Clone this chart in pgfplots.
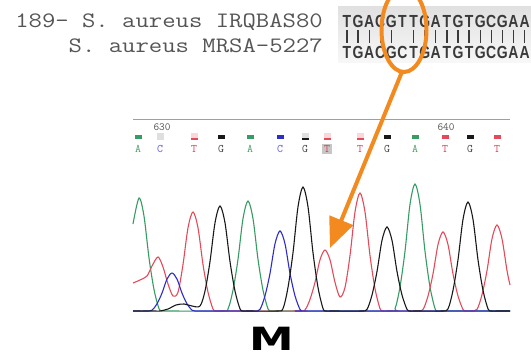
\documentclass[border=0pt]{standalone}
\usepackage{fontspec}
\setmainfont{Liberation Sans}
\newfontfamily\dejavu{DejaVu Sans}
\usepackage{pgfplots}
\pgfplotsset{compat=1.18}
\usetikzlibrary{arrows.meta}
\definecolor{tgreen}{RGB}{55,155,100}
\definecolor{tred}{RGB}{228,75,90}
\definecolor{tblue}{RGB}{45,45,200}
\definecolor{tblack}{RGB}{25,25,25}
\definecolor{orng}{RGB}{243,138,32}
\definecolor{seqgray}{RGB}{58,58,58}
\definecolor{txtgray}{RGB}{85,85,85}
\definecolor{lA}{RGB}{70,160,100}
\definecolor{lC}{RGB}{90,90,210}
\definecolor{lT}{RGB}{220,60,75}
\definecolor{lG}{RGB}{70,70,70}
\newcommand\seqfont{\fontsize{17.5}{19}\selectfont\bfseries}
\begin{document}
\begin{tikzpicture}
\useasboundingbox (0,0) rectangle (531pt,360pt);
\fill[white] (0,0) rectangle (531pt,360pt);
\begin{axis}[at={(0pt,0pt)}, anchor=south west, scale only axis,
  width=531pt, height=360pt, xmin=0, xmax=531, ymin=0, ymax=360,
  y dir=reverse, hide axis, clip=false]
% quality markers
\addplot[only marks, mark=-, mark size=3.5pt, mark options={line width=7pt, color=gray!25}] coordinates {(160,136)(305,136)};
\addplot[only marks, mark=-, mark size=3.5pt, mark options={line width=7pt, color=tred!22}] coordinates {(194,136)(327,136)(360,136)};
\addplot[only marks, mark=-, mark size=3.5pt, mark options={line width=2pt, color=tred}] coordinates {(194,138.5)(327,138.5)(360,138.5)};
\addplot[only marks, mark=-, mark size=3.5pt, mark options={line width=2pt, color=tblack}] coordinates {(305,138.5)};
\addplot[only marks, mark=-, mark size=3.5pt, mark options={line width=4.5pt, color=tgreen}] coordinates {(138,137)(250,137)(415,137)};
\addplot[only marks, mark=-, mark size=3.5pt, mark options={line width=4.5pt, color=tblack}] coordinates {(221,137)(387,137)(470,137)};
\addplot[only marks, mark=-, mark size=3.5pt, mark options={line width=4.5pt, color=tblue}] coordinates {(280,137)};
\addplot[only marks, mark=-, mark size=3.5pt, mark options={line width=4.5pt, color=tred}] coordinates {(445,137)(497,137)};
% traces
\addplot[tgreen, line width=1.1pt, smooth] coordinates {
(133,224)(139,198)(144,216.1)(149,257.9)(154,289.5)(159,308.7)(162,311)(168,311)
(222,311)(228,308.8)(233,290.1)(238,259.3)(243,218.6)(248,201)(253,218.6)(258,259.3)(263,290.1)(268,308.8)(271,311)(277,311)
(389,311)(395,308.5)(400,286.9)(405,251.3)(410,204.3)(415,184)(420,204.3)(425,251.3)(430,286.9)(435,308.5)(438,311)(444,311)(510,311)};
\addplot[tred, line width=1.1pt, smooth] coordinates {
(133,283)(140,280)(147,276)(152,266)(158,257)(163,267)(168,284)(173,296)(178,292.2)
(183,264.5)(188,227.8)(193,212)(198,227.8)(203,264.5)(208,292.2)(213,309)(216,311)(222,311)
(299,311)(305,309.8)(310,299.4)(315,282.3)(320,259.8)(325,250)(330,259.8)(335,282.3)(340,297)(345,287.4)
(350,255.5)(355,211.9)(360,193)(365,211.9)(370,255.5)(375,288.6)(380,308.6)(383,311)(389,311)
(417,311)(423,309.4)(428,296)(433,273.9)(438,244.6)(443,232)(448,244.6)(453,273.9)(458,296)(463,309.4)(466,311)
(471,311)(477,309.3)(482,294.7)(487,270.6)(492,238.8)(497,225)(502,238.8)(507,270.6)(510,285)};
\addplot[tblue, line width=1.1pt, smooth] coordinates {
(133,311)(146,311)(152,310.2)(157,303.8)(162,293.1)(167,279.1)(172,273)(177,279.1)(182,293.1)(187,303.8)(192,310.2)(195,311)(201,311)
(249,311)(255,311)(260,309.4)(265,295.8)(270,273.4)(275,243.8)(280,231)(285,243.8)(290,273.4)(295,295.8)(300,309.4)(303,311)(309,311)(510,311)};
\addplot[tblack, line width=1.1pt, smooth] coordinates {
(133,311)(154,311)(160,311)(168,309)(176,305)(184,304)(192,306)(200,306)(205,291)(210,261.6)(215,222.8)(220,206)(225,222.8)(230,261.6)(235,291)(240,308.9)(243,311)(249,311)
(277,311)(283,308.5)(288,287.4)(293,252.7)(298,206.8)(303,187)(308,206.8)(313,252.7)(318,287.4)(323,308.5)(326,311)(332,311)
(361,311)(367,309.3)(372,295)(377,271.5)(382,240.4)(387,227)(392,240.4)(397,271.5)(402,295)(407,309.3)(410,311)(416,311)
(442,311)(448,308.8)(453,290.3)(458,259.8)(463,219.4)(468,202)(473,219.4)(478,259.8)(483,290.3)(488,308.8)(491,311)(497,311)(510,311)};
\end{axis}
\begin{scope}[shift={(0pt,360pt)}, x=1pt, y=-1pt]
% top texts
\node[anchor=base east, inner sep=0, xscale=1.18, text=txtgray] at (323,27) {\ttfamily\fontsize{22}{24}\selectfont 189- S. aureus IRQBAS80};
\node[anchor=base east, inner sep=0, xscale=1.18, text=txtgray] at (323,52) {\ttfamily\fontsize{22}{24}\selectfont S. aureus MRSA-5227};
\shade[top color=gray!24, bottom color=gray!6] (338,6) rectangle (531,62);
\foreach \l [count=\i] in {T,G,A,C,G,T,T,G,A,T,G,T,G,C,G,A,A}
  {\node[anchor=base, inner sep=0, xscale=0.8, text=seqgray, font=\seqfont] at ({347+11.1*(\i-1)},27) {\l};}
\foreach \l [count=\i] in {T,G,A,C,G,C,T,G,A,T,G,T,G,C,G,A,A}
  {\node[anchor=base, inner sep=0, xscale=0.8, text=seqgray, font=\seqfont] at ({347+11.1*(\i-1)},58) {\l};}
\foreach \i in {1,...,17}
  {\ifnum\i=6\else\draw[seqgray, line width=1.3pt] ({347+11.1*(\i-1)},30) -- ({347+11.1*(\i-1)},43);\fi}
% chromatogram header
\draw[gray!75, line width=0.9pt] (133,119) -- (510,119);
\node[text=txtgray, inner sep=0] at (162,127) {\ttfamily\fontsize{11}{12}\selectfont 630};
\node[text=txtgray, inner sep=0] at (446,127) {\ttfamily\fontsize{11}{12}\selectfont 640};
\fill[gray!45] (322,144) rectangle (332,154);
\foreach \x/\l/\c in {138/A/lA,160/C/lC,194/T/lT,221/G/lG,250/A/lA,280/C/lC,305/G/lG,327/T/lT,360/T/lT,387/G/lG,415/A/lA,445/T/lT,470/G/lG,497/T/lT}
  {\node[text=\c, inner sep=0] at (\x,149) {\ttfamily\fontsize{11.5}{12}\selectfont \l};}
% label
\node[inner sep=0, xscale=1.4] at (271.5,339) {\dejavu\bfseries\fontsize{32}{36}\selectfont M};
% annotations
\draw[orng, line width=4pt] (404,30) ellipse [x radius=22.5pt, y radius=42pt];
\draw[orng, line width=4pt, -{Triangle[length=30pt, width=25pt]}] (401.5,73) -- (330,248);
\end{scope}
\end{tikzpicture}
\end{document}
